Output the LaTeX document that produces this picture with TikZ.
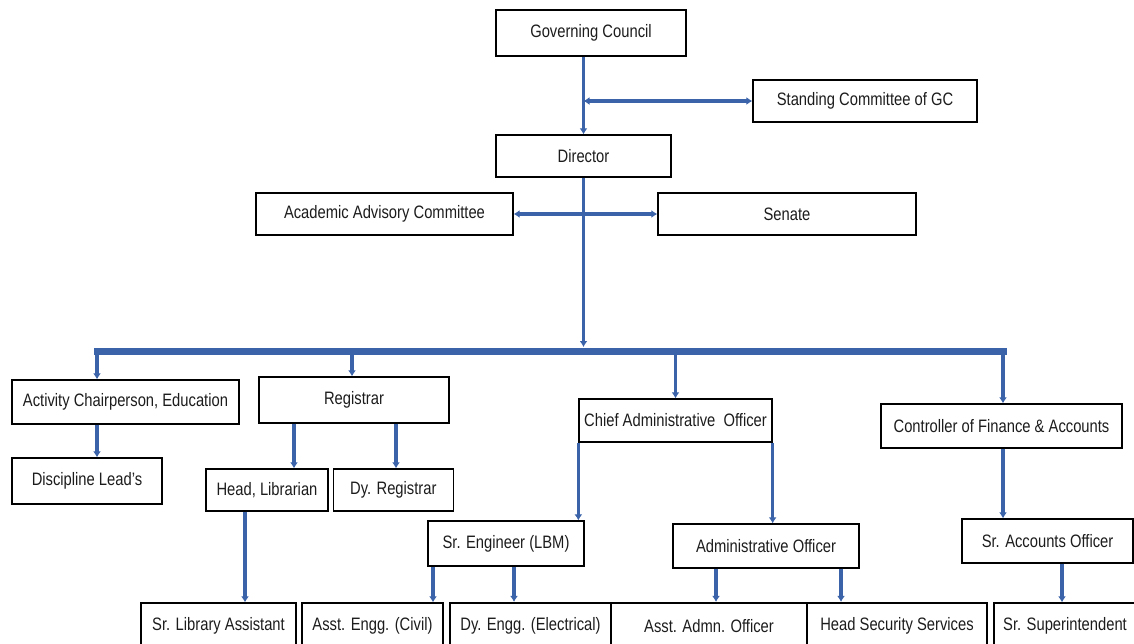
\documentclass[tikz,border=0pt]{standalone}
\usepackage{fontspec}
\setmainfont{Liberation Sans}[FakeStretch=0.82]
\usetikzlibrary{arrows.meta,positioning}
\definecolor{linkblue}{RGB}{59,99,170}
\definecolor{boxtext}{RGB}{28,28,28}
\begin{document}
\begin{tikzpicture}[x=1pt,y=-1pt,
    box/.style={draw,line width=1.3pt,inner sep=0pt,text=boxtext,font=\fontsize{18}{20}\selectfont},
    heavybox/.style={box,line width=2.2pt},
    link/.style={draw=linkblue,line width=3.6pt,-{Latex[length=6pt,width=8pt]}},
    twoway/.style={link,line width=4.5pt,{Latex[length=6pt,width=8pt]}-{Latex[length=6pt,width=8pt]}},
    busline/.style={draw=linkblue,line width=7pt,line cap=rect}]
    \useasboundingbox (0,0) rectangle (1134,643);
    \clip (0,0) rectangle (1134,643);
    % top of the chart
    \node[box,minimum width=190pt,minimum height=46pt](gc) at (591,33){Governing Council};
    \node[box,minimum width=224pt,minimum height=42pt](sc) at (865,101){Standing Committee of GC};
    \node[box,minimum width=175pt,minimum height=42pt](dir) at (583.5,156){Director};
    \node[box,minimum width=257pt,minimum height=42pt](aac) at (384.5,214){Academic Advisory Committee};
    \node[box,minimum width=258pt,minimum height=42pt](sen) at (787,214){Senate};
    % second level
    \node[box,minimum width=227pt,minimum height=44pt](act) at (125.5,402){Activity Chairperson, Education};
    \node[box,minimum width=190pt,minimum height=46pt](reg) at (354,400){Registrar};
    \node[box,minimum width=193pt,minimum height=43pt](cao) at (675.5,420.5){Chief Administrative~ Officer};
    \node[box,minimum width=241pt,minimum height=44pt](cfa) at (1001.5,426){Controller of Finance \& Accounts};
    % third level
    \node[box,minimum width=150pt,minimum height=46pt](dis) at (87,481){Discipline Lead’s};
    \node[box,minimum width=122pt,minimum height=42pt](hlib) at (267,490){Head, Librarian};
    \node[box,minimum width=120pt,minimum height=42pt](dyreg)[right=4pt of hlib]{Dy. Registrar};
    \node[box,minimum width=156pt,minimum height=45pt](sre) at (506,543.5){Sr. Engineer (LBM)};
    \node[box,minimum width=186pt,minimum height=44pt](ao) at (766,546){Administrative Officer};
    \node[box,minimum width=171pt,minimum height=44pt](sao) at (1047.5,541){Sr. Accounts Officer};
    % bottom row
    \node[box,minimum width=155pt,minimum height=46pt](sla) at (218.5,626){Sr. Library Assistant};
    \node[box,minimum width=141pt,minimum height=46pt](aec) at (372.5,626){Asst. Engg. (Civil)};
    \node[heavybox,minimum width=161pt,minimum height=46pt](dee) at (530.5,626){Dy. Engg. (Electrical)};
    \node[heavybox,minimum width=196pt,minimum height=46pt](aaa) at (709,626){Asst. Admn. Officer};
    \node[heavybox,minimum width=180pt,minimum height=46pt](hss) at (897,626){Head Security Services};
    \node[box,minimum width=142pt,minimum height=46pt](ssup) at (1065,626){Sr. Superintendent};
    % the bus
    \coordinate (busL) at (97,351);
    \coordinate (busR) at (1003,351);
    \coordinate (bustop) at (0,347);
    \draw[link](dir.north |- gc.south) -- (dir.north);
    \draw[twoway](sc.west) -- (dir.north |- sc.west);
    \draw[link](dir.south |- aac.east) -- (aac.east);
    \draw[link](dir.south |- sen.west) -- (sen.west);
    \draw[link](dir.south) -- (dir.south |- bustop);
    \draw[link](busL) -- (busL |- act.north);
    \draw[link](352,0 |- busL) -- (352,0 |- reg.north);
    \draw[link](cao.north |- busL) -- (cao.north);
    \draw[link](busR) -- (busR |- cfa.north);
    \draw[busline](busL) -- (busR);
    \draw[link](busL |- act.south) -- (busL |- dis.north);
    \draw[link](294,0 |- reg.south) -- (294,0 |- hlib.north);
    \draw[link](396,0 |- reg.south) -- (396,0 |- dyreg.north);
    \draw[link](245,0 |- hlib.south) -- (245,0 |- sla.north);
    \draw[link](cao.south west) -- (cao.south west |- sre.north);
    \draw[link](cao.south east) -- (cao.south east |- ao.north);
    \draw[link](433,0 |- sre.south) -- (433,0 |- aec.north);
    \draw[link](514,0 |- sre.south) -- (514,0 |- dee.north);
    \draw[link](716,0 |- ao.south) -- (716,0 |- aaa.north);
    \draw[link](841,0 |- ao.south) -- (841,0 |- hss.north);
    \draw[link](busR |- cfa.south) -- (busR |- sao.north);
    \draw[link](1062,0 |- sao.south) -- (1062,0 |- ssup.north);
\end{tikzpicture}
\end{document}
